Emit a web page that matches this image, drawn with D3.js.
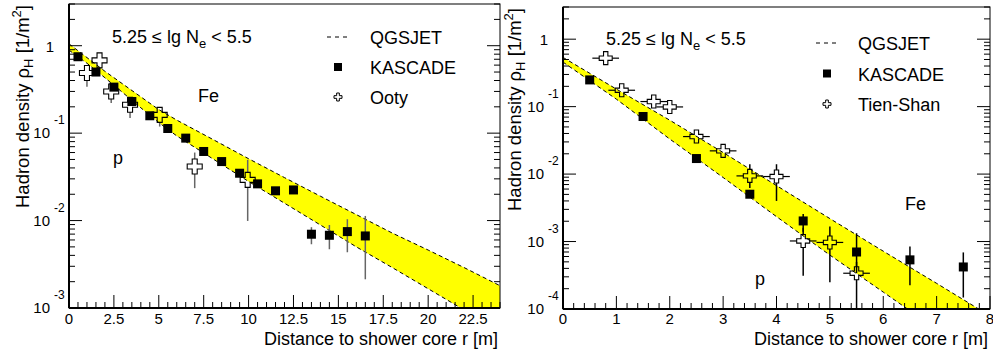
<!DOCTYPE html>
<html><head><meta charset="utf-8">
<script src="https://cdn.jsdelivr.net/npm/d3@7/dist/d3.min.js"></script>
<style>
body{margin:0;background:#fff}
svg{display:block;font-family:"Liberation Sans",Arial,Helvetica,sans-serif}
</style>
</head><body>
<svg id="chart" width="993" height="354"></svg>
<script>
// ---------------- DATA ----------------
// Left panel: KASCADE vs Ooty
const leftKascadeR   = [0.5,1.5,2.5,3.5,4.5,5.5,6.5,7.5,8.5,9.5,10.5,11.5,12.5,13.5,14.5,15.5,16.5];
const leftKascadeRho = [0.748,0.50,0.336,0.230,0.158,0.113,0.0877,0.0617,0.0473,0.0348,0.0263,0.0219,0.0224,0.00698,0.00679,0.00748,0.00667];
const leftKascadeLo  = [0.748,0.50,0.336,0.230,0.158,0.113,0.0877,0.0617,0.0473,0.0348,0.0263,0.0219,0.0224,0.00536,0.0047,0.00434,0.00213];
const leftKascadeHi  = [0.748,0.50,0.336,0.230,0.158,0.113,0.0877,0.0617,0.0473,0.0348,0.0263,0.0219,0.0224,0.0084,0.0089,0.01036,0.0113];
const ootyR   = [1.0,1.7,2.35,3.4,5.05,7.0,9.95];
const ootyRho = [0.487,0.68,0.30,0.211,0.162,0.0415,0.0292];
const ootyLo  = [0.34,0.68,0.221,0.149,0.119,0.0235,0.0099];
const ootyHi  = [0.56,0.68,0.30,0.211,0.185,0.060,0.0495];
// QGSJET band, left panel (Fe upper edge, p lower edge)
const leftFeR   = [0,2,4,5,6,8,10,12,14,16,18,20,22,24];
const leftFeRho = [1.05,0.51,0.26,0.186,0.141,0.085,0.051,0.031,0.019,0.0117,0.0072,0.0046,0.0029,0.0018];
const leftPR    = [0,1,2,3,4,5,6,8,10,12,14,16,18,20,22,24];
const leftPRho  = [0.89,0.63,0.43,0.29,0.195,0.132,0.093,0.051,0.028,0.0158,0.0089,0.0050,0.0029,0.00166,0.00095,0.00055];
const leftXTicks = [0,2.5,5,7.5,10,12.5,15,17.5,20,22.5];

// Right panel: KASCADE vs Tien-Shan
const rightKascadeR   = [0.5,1.5,2.5,3.5,4.5,5.5,6.5,7.5];
const rightKascadeRho = [0.249,0.0714,0.0170,0.00503,0.00202,0.00070,0.000535,0.00042];
const rightKascadeLo  = [0.249,0.0714,0.0170,0.00503,0.0014,0.00034,0.000225,0.000148];
const rightKascadeHi  = [0.249,0.0714,0.0170,0.00503,0.00255,0.00133,0.000845,0.00069];
const tienShanR   = [0.8,1.1,1.7,2.0,2.5,3.0,3.5,4.0,4.5,5.0,5.5];
const tienShanRho = [0.523,0.175,0.119,0.099,0.036,0.0221,0.0094,0.0092,0.00102,0.00097,0.000339];
const tienShanLo  = [0.523,0.175,0.119,0.099,0.036,0.0221,0.0062,0.0040,0.00031,0.00025,0.00005];
const tienShanHi  = [0.523,0.175,0.119,0.099,0.036,0.0221,0.014,0.014,0.0016,0.00167,0.00050];
const tienShanDr  = [0.25,0.25,0.25,0.25,0.25,0.25,0.25,0.25,0.25,0.25,0.25];
const rightFeR   = [0,1,2,3,4,5,6,7,8];
const rightFeRho = [0.537,0.182,0.063,0.0209,0.00676,0.00219,0.00072,0.00024,0.000079];
const rightPR    = [0,1,2,3,4,5,6,7];
const rightPRho  = [0.457,0.129,0.0331,0.0089,0.00234,0.00063,0.000178,0.00005];
const rightXTicks = [0,1,2,3,4,5,6,7,8];

// ---------------- DRAWING ----------------
const svg = d3.select("#chart");

function crossPath(s){
  const h=s/2, a=s/6;
  return `M${-a},${-h}H${a}V${-a}H${h}V${a}H${a}V${h}H${-a}V${a}H${-h}V${-a}H${-a}Z`;
}

function drawPanel(o){
  const g = svg.append("g");
  const x = d3.scaleLinear().domain(o.xDomain).range([o.left,o.right]);
  const y = d3.scaleLog().domain(o.yDomain).range([o.bottom,o.top]);
  const clipId = "clip"+o.id;
  svg.append("defs").append("clipPath").attr("id",clipId)
    .append("rect").attr("x",o.left).attr("y",o.top)
    .attr("width",o.right-o.left).attr("height",o.bottom-o.top);
  const plot = g.append("g").attr("clip-path",`url(#${clipId})`);

  // band
  const up = o.feR.map((r,i)=>[r,o.feRho[i]]);
  const lo = o.pR.map((r,i)=>[r,o.pRho[i]]);
  const line = d3.line().x(d=>x(d[0])).y(d=>y(d[1]));
  plot.append("path").attr("d", line(up.concat(lo.slice().reverse()))+"Z")
    .attr("fill","#ffff00").attr("stroke","none");
  [up,lo].forEach(pts=>{
    plot.append("path").attr("d",line(pts)).attr("fill","none")
      .attr("stroke","#000").attr("stroke-width",1).attr("stroke-dasharray","4,3");
  });

  // error bars KASCADE
  const ec = o.errColor;
  o.kR.forEach((r,i)=>{
    if(o.kLo[i]<o.kRho[i]||o.kHi[i]>o.kRho[i])
      plot.append("line").attr("x1",x(r)).attr("x2",x(r))
        .attr("y1",y(o.kHi[i])).attr("y2",y(Math.max(o.kLo[i],1e-6)))
        .attr("stroke",ec).attr("stroke-width",1.5);
  });
  // error bars crosses (stop at marker edge)
  const hs = o.crossSize/2;
  o.cR.forEach((r,i)=>{
    const cx=x(r), cy=y(o.cRho[i]);
    const yh=y(o.cHi[i]), yl=y(Math.max(o.cLo[i],1e-6));
    if(cy-yh>hs) plot.append("line").attr("x1",cx).attr("x2",cx).attr("y1",yh).attr("y2",cy-hs).attr("stroke",ec).attr("stroke-width",1.5);
    if(yl-cy>hs) plot.append("line").attr("x1",cx).attr("x2",cx).attr("y1",cy+hs).attr("y2",yl).attr("stroke",ec).attr("stroke-width",1.5);
    if(o.cDr){
      const xl=x(r-o.cDr[i]), xr=x(r+o.cDr[i]);
      plot.append("line").attr("x1",xl).attr("x2",cx-hs).attr("y1",cy).attr("y2",cy).attr("stroke",ec).attr("stroke-width",1.2);
      plot.append("line").attr("x1",cx+hs).attr("x2",xr).attr("y1",cy).attr("y2",cy).attr("stroke",ec).attr("stroke-width",1.2);
    }
  });
  // markers
  const sq=o.sqSize;
  o.kR.forEach((r,i)=>{
    plot.append("rect").attr("x",x(r)-sq/2).attr("y",y(o.kRho[i])-sq/2)
      .attr("width",sq).attr("height",sq).attr("fill","#000");
  });
  o.cR.forEach((r,i)=>{
    plot.append("path").attr("d",crossPath(o.crossSize))
      .attr("transform",`translate(${x(r)},${y(o.cRho[i])})`)
      .attr("fill","none").attr("stroke","#000").attr("stroke-width",1.1);
  });

  // frame
  g.append("rect").attr("x",o.left).attr("y",o.top)
    .attr("width",o.right-o.left).attr("height",o.bottom-o.top)
    .attr("fill","none").attr("stroke","#000").attr("stroke-width",1);
  g.append("line").attr("x1",o.left).attr("x2",o.left).attr("y1",o.top).attr("y2",o.bottom).attr("stroke","#000").attr("stroke-width",2);
  g.append("line").attr("x1",o.left).attr("x2",o.right).attr("y1",o.bottom).attr("y2",o.bottom).attr("stroke","#000").attr("stroke-width",2);

  // x ticks
  const minors = d3.range(o.xDomain[0], o.xDomain[1]+1e-9, o.xMinor);
  minors.forEach(v=>{
    const isMaj = o.xTicks.some(t=>Math.abs(t-v)<1e-6);
    g.append("line").attr("x1",x(v)).attr("x2",x(v)).attr("y1",o.bottom).attr("y2",o.bottom-(isMaj?13:6))
      .attr("stroke","#000").attr("stroke-width",1);
  });
  o.xTicks.forEach(v=>{
    g.append("text").attr("x",x(v)).attr("y",324).attr("text-anchor","middle")
      .attr("font-size",15).text(String(v));
  });
  // y ticks (both sides)
  y.ticks().forEach(v=>{
    const lg=Math.log10(v), isMaj=Math.abs(lg-Math.round(lg))<1e-6;
    const len=isMaj?13:6;
    g.append("line").attr("x1",o.left).attr("x2",o.left+len).attr("y1",y(v)).attr("y2",y(v)).attr("stroke","#000");
    g.append("line").attr("x1",o.right).attr("x2",o.right-len).attr("y1",y(v)).attr("y2",y(v)).attr("stroke","#000");
    if(isMaj){
      const n=Math.round(lg);
      if(n===0){
        g.append("text").attr("x",o.left-15).attr("y",y(v)+6).attr("text-anchor","end").attr("font-size",15).text("1");
      } else {
        g.append("text").attr("x",o.left-19).attr("y",y(v)+5).attr("text-anchor","end").attr("font-size",15).text("10");
        g.append("text").attr("x",o.left-15).attr("y",y(v)-9).attr("text-anchor","start").attr("font-size",12).text(String(n));
      }
    }
  });

  // axis titles
  g.append("text").attr("x",o.right-2).attr("y",345).attr("text-anchor","end").attr("font-size",18)
    .text("Distance to shower core r [m]");
  const yt = g.append("text").attr("transform",`translate(${o.yTitleX},${o.top+1}) rotate(-90)`)
    .attr("text-anchor","end").attr("font-size",18.5);
  yt.append("tspan").text("Hadron density ρ");
  yt.append("tspan").attr("font-size",13).attr("dy",4).text("H");
  yt.append("tspan").attr("dy",-4).text(" [1/m");
  yt.append("tspan").attr("font-size",13).attr("dy",-8).text("2");
  yt.append("tspan").attr("dy",8).text("]");

  // Ne label
  const t = g.append("text").attr("x",o.neX).attr("y",o.neY).attr("font-size",18);
  t.append("tspan").text("5.25 ≤ lg N");
  t.append("tspan").attr("font-size",13).attr("dy",5).text("e");
  t.append("tspan").attr("dy",-5).text(" < 5.5");

  // Fe / p
  g.append("text").attr("x",o.feLab[0]).attr("y",o.feLab[1]).attr("font-size",18).text("Fe");
  g.append("text").attr("x",o.pLab[0]).attr("y",o.pLab[1]).attr("font-size",18).text("p");

  // legend
  const L=o.leg;
  g.append("line").attr("x1",L.x-11).attr("x2",L.x+11).attr("y1",L.y0).attr("y2",L.y0)
    .attr("stroke","#000").attr("stroke-dasharray","4,4");
  g.append("text").attr("x",L.tx).attr("y",L.y0+7).attr("font-size",18).text("QGSJET");
  g.append("rect").attr("x",L.x-4).attr("y",L.y0+L.dy-4).attr("width",8).attr("height",8).attr("fill","#000");
  g.append("text").attr("x",L.tx).attr("y",L.y0+L.dy+7).attr("font-size",18).text("KASCADE");
  g.append("path").attr("d",crossPath(8)).attr("transform",`translate(${L.x},${L.y0+2*L.dy})`)
    .attr("fill","none").attr("stroke","#000").attr("stroke-width",1);
  g.append("text").attr("x",L.tx).attr("y",L.y0+2*L.dy+7).attr("font-size",18).text(o.crossName);
}

drawPanel({
  id:"L", left:69, right:500, top:4, bottom:308,
  xDomain:[0,24], yDomain:[1e-3,3], xTicks:leftXTicks, xMinor:0.5,
  feR:leftFeR, feRho:leftFeRho, pR:leftPR, pRho:leftPRho,
  kR:leftKascadeR, kRho:leftKascadeRho, kLo:leftKascadeLo, kHi:leftKascadeHi,
  cR:ootyR, cRho:ootyRho, cLo:ootyLo, cHi:ootyHi, cDr:null,
  crossSize:15, sqSize:9, errColor:"#666",
  yTitleX:29, neX:112, neY:43, feLab:[198,102], pLab:[113,164],
  leg:{x:338, y0:37, dy:30, tx:370}, crossName:"Ooty"
});
drawPanel({
  id:"R", left:563, right:990, top:7, bottom:309,
  xDomain:[0,8], yDomain:[1e-4,3], xTicks:rightXTicks, xMinor:0.2,
  feR:rightFeR, feRho:rightFeRho, pR:rightPR, pRho:rightPRho,
  kR:rightKascadeR, kRho:rightKascadeRho, kLo:rightKascadeLo, kHi:rightKascadeHi,
  cR:tienShanR, cRho:tienShanRho, cLo:tienShanLo, cHi:tienShanHi, cDr:tienShanDr,
  crossSize:13, sqSize:9, errColor:"#000",
  yTitleX:521, neX:606, neY:45, feLab:[905,210], pLab:[755,285],
  leg:{x:827, y0:43, dy:30.5, tx:858}, crossName:"Tien-Shan"
});
</script>
</body></html>
